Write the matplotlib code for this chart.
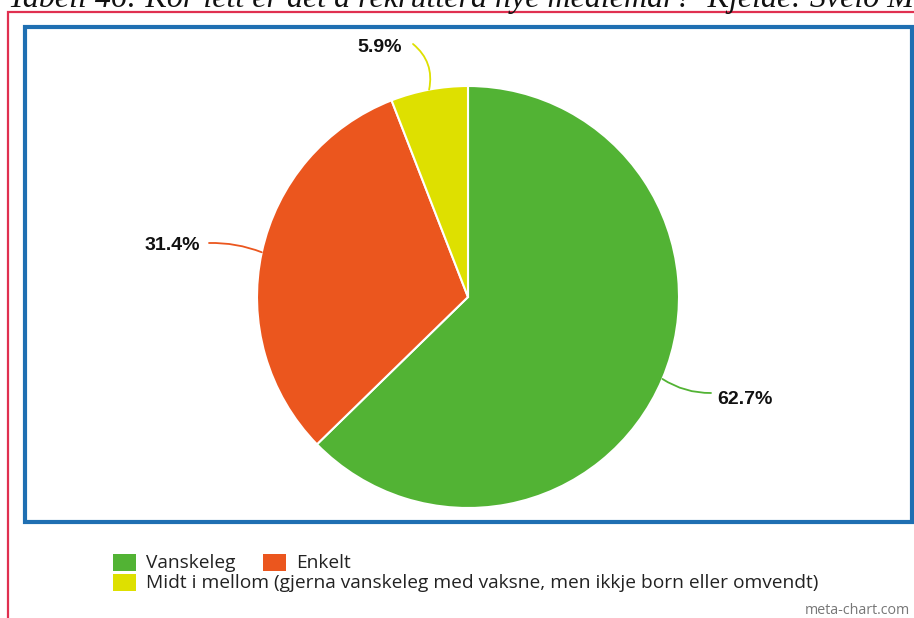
import matplotlib
matplotlib.use("Agg")
import matplotlib.pyplot as plt
from matplotlib.patches import Rectangle
import numpy as np

# data
labels = ["Vanskeleg", "Enkelt",
          "Midt i mellom (gjerna vanskeleg med vaksne, men ikkje born eller omvendt)"]
shares = [62.7, 31.4, 5.9]
colors = ["#52b334", "#eb561e", "#dee000"]
title = "Tabell 46: Kor lett er det å rekruttera nye medlemar?  Kjelde: Sveio Mi"

W, H = 914, 618
fig = plt.figure(figsize=(W / 100, H / 100), dpi=100, facecolor="white")
ax = fig.add_axes([0, 0, 1, 1])


def py(y):
    # pixel row (top-down) -> data y
    return H - y


cx, cy, R = 468, py(297), 211
wedges, _ = ax.pie(shares, colors=colors, startangle=90, counterclock=False,
                   center=(cx, cy), radius=R,
                   wedgeprops=dict(edgecolor="white", linewidth=1.5))
ax.set_xlim(0, W)
ax.set_ylim(0, H)
ax.set_aspect("auto")
ax.axis("off")

# percentage labels with curved leader lines
label_pos = [(717, py(400), "left", 0.15, (-6, 7)),
             (200, py(245), "right", 0.1, (9, 2)),
             (402, py(47), "right", 0.3, (11, 3))]
for w, val, (tx, ty, ha, rad, (dx, dy)) in zip(wedges, shares, label_pos):
    mid = np.deg2rad((w.theta1 + w.theta2) / 2)
    ex, ey = cx + R * np.cos(mid), cy + R * np.sin(mid)
    ax.annotate("", xy=(tx + dx, ty + dy), xytext=(ex, ey),
                arrowprops=dict(arrowstyle="-", color=w.get_facecolor(), lw=1.3,
                                shrinkA=0, shrinkB=0,
                                connectionstyle=f"arc3,rad={rad}"))
    ax.text(tx, ty, f"{val:.1f}%", ha=ha, va="center", fontsize=14,
            fontweight="bold", family="Liberation Sans", color="#111111")

# frames
ax.add_patch(Rectangle((25, py(522)), 887, 495, fill=False,
                       edgecolor="#1f6fb2", lw=3, zorder=5))
ax.plot([8, 8, W], [0, py(12), py(12)], color="#e03050", lw=1.6,
        solid_joinstyle="miter")

# title (only its lower part shows in the source, the top is cropped)
ax.text(8, py(7), title, ha="left", va="baseline", fontsize=23,
        style="italic", family="Liberation Serif", color="#111111",
        clip_on=True)

# legend
leg_rows = [(113, 554, 146), (263, 554, 296), (113, 574, 146)]
for (sx, sy, tx), lab, col in zip(leg_rows, labels, colors):
    ax.add_patch(Rectangle((sx, py(sy + 17)), 23, 17, facecolor=col,
                           edgecolor="none"))
    ax.text(tx, py(sy + 9), lab, ha="left", va="center", fontsize=13.8,
            family="Open Sans", color="#222222")

ax.text(910, py(611), "meta-chart.com", ha="right", va="center",
        fontsize=10.3, family="Open Sans", color="#777777")

fig.savefig("out.png", dpi=100, facecolor="white")
